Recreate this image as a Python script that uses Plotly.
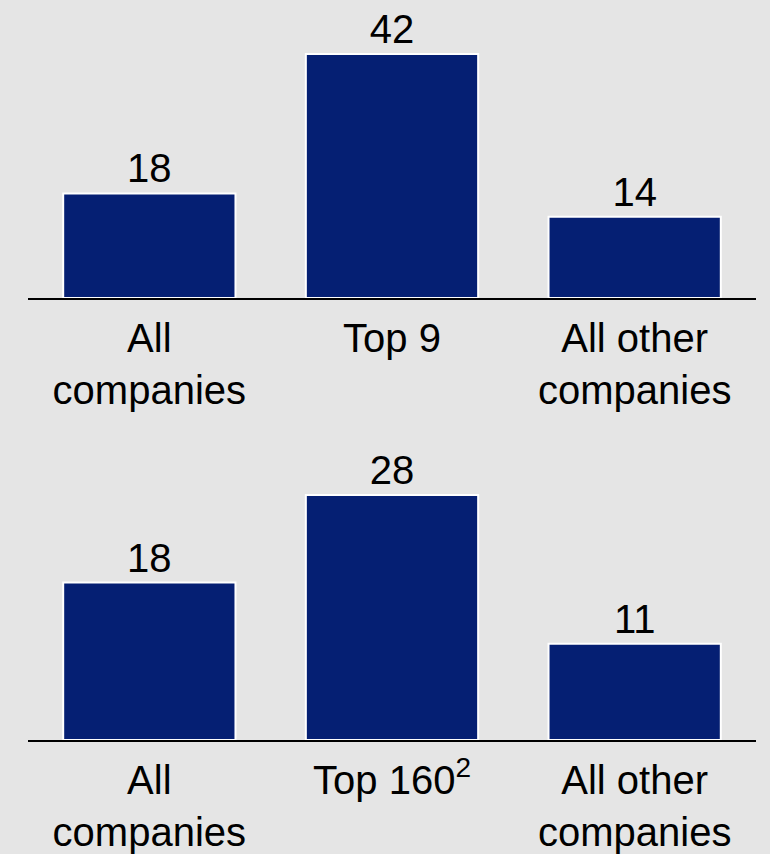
import plotly.graph_objects as go

categories_top = ["All<br>companies", "Top 9", "All other<br>companies"]
values_top = [18, 42, 14]
categories_bottom = ["All<br>companies", "Top 160<sup>2</sup>", "All other<br>companies"]
values_bottom = [18, 28, 11]

BAR_COLOR = "#051f73"
BG = "#e5e5e5"
FONT = "Liberation Sans, Arial, sans-serif"
FS = 40

fig = go.Figure()
fig.add_trace(go.Bar(
    x=categories_top, y=values_top, xaxis="x", yaxis="y",
    marker=dict(color=BAR_COLOR, line=dict(color="white", width=2)),
    text=[str(v) for v in values_top], textposition="outside",
    textfont=dict(size=FS, color="black", family=FONT),
    cliponaxis=False, showlegend=False,
))
fig.add_trace(go.Bar(
    x=categories_bottom, y=values_bottom, xaxis="x2", yaxis="y2",
    marker=dict(color=BAR_COLOR, line=dict(color="white", width=2)),
    text=[str(v) for v in values_bottom], textposition="outside",
    textfont=dict(size=FS, color="black", family=FONT),
    cliponaxis=False, showlegend=False,
))

H = 854
xa = dict(showline=True, linecolor="black", linewidth=2, ticks="",
          showgrid=False, zeroline=False, ticklabelstandoff=4,
          tickfont=dict(size=FS, color="black", family=FONT))
fig.update_layout(
    width=770, height=H,
    margin=dict(l=28, r=14, t=0, b=0),
    paper_bgcolor=BG, plot_bgcolor=BG,
    bargap=0.29,
    font=dict(family=FONT, size=FS, color="black"),
    xaxis=dict(anchor="y", **xa),
    xaxis2=dict(anchor="y2", **xa),
    yaxis=dict(domain=[(H - 298) / H, 1.0], range=[0, 298 / 5.81], visible=False),
    yaxis2=dict(domain=[(H - 740) / H, (H - 440) / H], range=[0, 300 / 8.75], visible=False),
)

fig.write_html("out.html")
